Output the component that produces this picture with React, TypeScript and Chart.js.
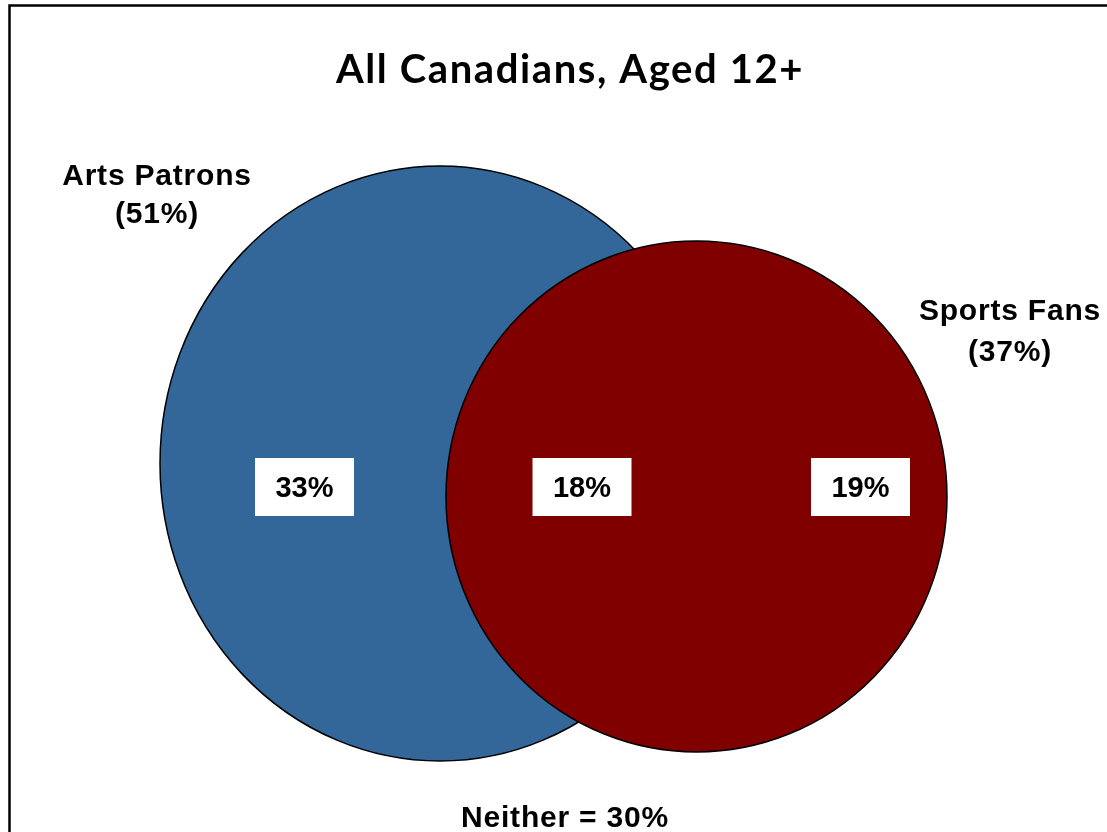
import { useEffect, useRef } from "react";
import { Chart, registerables } from "chart.js";

Chart.register(...registerables);

// ---- data ----
const TITLE = "All Canadians, Aged 12+";
const SET_NAMES = ["Arts Patrons", "Sports Fans"];
const SET_PCT = [51, 37];
const REGION_NAMES = ["Arts only", "Both", "Sports only"];
const REGION_PCT = [33, 18, 19];
const NEITHER_PCT = 30;

// ---- layout (plot units; axes span 0..1107 x 0..832) ----
const SET_CX = [440, 696.5];
const SET_CY = [463.5, 496.5];
const SET_RX = [280, 250.5];
const SET_RY = [297.5, 255.5];
const SET_COLORS = ["#336699", "#800000"];
const SET_LABEL_X = [157, 1010];
const SET_LABEL_Y = [185, 320];
const SET_LABEL_Y2 = [223, 361];
const REGION_X = [304.5, 582, 860.5];
const REGION_Y = 487;

const LABEL_FONT = "bold 30px 'Liberation Sans', Arial, sans-serif";
const BOX_FONT = "bold 29px 'Liberation Sans', Arial, sans-serif";

const vennPlugin = {
  id: "venn",
  beforeDatasetsDraw(chart: any) {
    const { ctx } = chart;
    const xs = chart.scales.x;
    const ys = chart.scales.y;
    ctx.save();
    // frame
    ctx.strokeStyle = "#000";
    ctx.lineWidth = 2.5;
    ctx.strokeRect(xs.getPixelForValue(9.5), ys.getPixelForValue(5.5), 1300, 1000);
    chart.data.datasets.forEach((ds: any) => {
      const p = ds.data[0];
      const cx = xs.getPixelForValue(p.x);
      const cy = ys.getPixelForValue(p.y);
      const rx = Math.abs(xs.getPixelForValue(p.x + p.rx) - cx);
      const ry = Math.abs(ys.getPixelForValue(p.y + p.ry) - cy);
      ctx.beginPath();
      ctx.ellipse(cx, cy, rx, ry, 0, 0, Math.PI * 2);
      ctx.fillStyle = ds.backgroundColor;
      ctx.fill();
      ctx.lineWidth = 1.5;
      ctx.strokeStyle = "#000";
      ctx.stroke();
    });
    ctx.restore();
  },
  afterDatasetsDraw(chart: any) {
    const { ctx } = chart;
    const xs = chart.scales.x;
    const ys = chart.scales.y;
    const px = (v: number) => xs.getPixelForValue(v);
    const py = (v: number) => ys.getPixelForValue(v);
    ctx.save();
    ctx.fillStyle = "#000";
    ctx.textAlign = "center";
    ctx.textBaseline = "alphabetic";
    // title
    ctx.font = "bold 40px Lato, 'Open Sans', sans-serif";
    (ctx as any).letterSpacing = "1.6px";
    ctx.fillText(TITLE, px(570), py(83));
    // set names
    ctx.font = LABEL_FONT;
    (ctx as any).letterSpacing = "0.8px";
    SET_NAMES.forEach((n, i) => {
      ctx.fillText(n, px(SET_LABEL_X[i]), py(SET_LABEL_Y[i]));
      ctx.fillText(`(${SET_PCT[i]}%)`, px(SET_LABEL_X[i]), py(SET_LABEL_Y2[i]));
    });
    ctx.fillText(`Neither = ${NEITHER_PCT}%`, px(565), py(827));
    // region boxes
    ctx.font = BOX_FONT;
    (ctx as any).letterSpacing = "0px";
    REGION_PCT.forEach((v, i) => {
      const cx = px(REGION_X[i]);
      const cy = py(REGION_Y);
      ctx.fillStyle = "#fff";
      ctx.fillRect(cx - 49.5, cy - 29, 99, 58);
      ctx.fillStyle = "#000";
      ctx.fillText(`${v}%`, cx, cy + 10);
    });
    ctx.restore();
  },
};

export default function App() {
  const ref = useRef<HTMLCanvasElement>(null);
  useEffect(() => {
    if (!ref.current) return;
    const chart = new Chart(ref.current, {
      type: "scatter",
      data: {
        datasets: SET_NAMES.map((name, i) => ({
          label: name,
          data: [{ x: SET_CX[i], y: SET_CY[i], rx: SET_RX[i], ry: SET_RY[i] } as any],
          backgroundColor: SET_COLORS[i],
          pointRadius: 0,
          pointHoverRadius: 0,
        })),
      },
      options: {
        animation: false,
        responsive: false,
        maintainAspectRatio: false,
        layout: { padding: 0 },
        plugins: { legend: { display: false }, tooltip: { enabled: false }, title: { display: false } },
        scales: {
          x: { type: "linear", min: 0, max: 1107, display: false },
          y: { type: "linear", min: 0, max: 832, reverse: true, display: false },
        },
      },
      plugins: [vennPlugin],
    });
    return () => chart.destroy();
  }, []);
  return (
    <div style={{ position: "fixed", left: 0, top: 0, width: 1107, height: 832, background: "#fff" }}>
      <canvas ref={ref} width={1107} height={832} style={{ display: "block" }} />
    </div>
  );
}
